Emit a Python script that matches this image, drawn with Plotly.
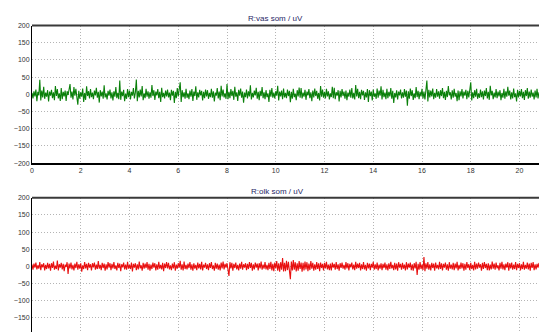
import plotly.graph_objects as go

# Surface EMG recordings, sampled every 0.04 s
sample_step = 0.04

vas_title = "R:vas som / uV"
olk_title = "R:olk som / uV"

vas_uv = [
    4, -12, 9, -6, 14, -20, 7, -3, 42, -18, 11, -9, 22, -13, 5, -7, 12, -21, 8, -4,
    13, -11, 6, -17, 24, -5, 15, -12, 3, -19, 18, -14, 7, -6, 11, -19, 9, -2, 14, 30,
    -10, 8, -15, 21, -4, 16, -8, -30, 10, -13, 6, -7, 17, -22, 4, -16, 23, -5, 9, -12,
    15, -8, 5, -14, 11, -3, 19, -10, 7, -24, 12, -6, 8, -13, 26, -9, 3, -15, 10, -4,
    14, -12, 6, -18, 9, -7, 21, -11, 4, -14, 40, -16, 8, -5, 13, -20, 2, -13, 15, -8,
    11, -15, 7, -4, 18, -12, 5, 43, -20, 10, -9, 14, -6, 24, -17, 3, -11, 16, -7, 9,
    -13, 6, -10, 27, -5, 12, -16, 8, -3, 15, -11, 7, -22, 19, -8, 4, -12, 11, -6, 14,
    -9, 5, -17, 13, -4, 10, -25, 7, -11, 18, -6, 9, 35, -22, 12, -8, 6, -13, 16, -10,
    3, -14, 11, -7, 15, -19, 8, -5, 23, -16, 6, -9, 13, -3, 10, -18, 7, -11, 14, -6,
    12, -13, 4, -8, 16, -10, 9, -21, 5, -4, 18, -12, 8, -17, 25, -6, 14, -9, 3, -13,
    30, -14, 7, -11, 15, -5, 10, -16, 22, -7, 6, -19, 13, -4, 17, -10, 8, -24, 5, -8,
    14, -12, 9, -6, 26, -15, 4, -9, 11, -3, 19, -13, 7, -17, 10, -5, 21, -11, 6, -14,
    12, -8, 3, -22, 13, -7, 18, -10, 5, -12, 9, -4, 25, -18, 8, -6, 11, -14, 17, -9,
    4, -11, 14, -5, 10, -23, 7, -13, 16, -8, 2, -17, 12, -6, 20, -10, 18, -12, 5, -7,
    13, -16, 8, -3, 15, -11, 6, -20, 11, -9, 17, -5, 10, -13, 4, -18, 24, -7, 14, -10,
    7, -12, 16, -6, 9, -15, 3, -8, 22, -11, 19, -14, 6, -4, 12, -21, 10, -9, 15, -5,
    8, -13, 11, -17, 5, -7, 14, -10, 18, -12, 4, -15, 27, -6, 16, -11, 7, -14, 13, -3,
    10, -16, 6, -9, 15, -22, 12, -5, 8, -18, 14, -7, 3, -13, 17, -10, 11, -4, 23, -15,
    13, -8, 5, -14, 16, -11, 7, -6, 18, -13, 10, -25, 4, -9, 12, -15, 8, -3, 14, -12,
    6, -10, 15, -7, 11, -33, 9, -13, 17, -5, 12, -16, 3, -11, 21, -8, 10, -14, 7, -6,
    16, -12, 8, -15, 5, 40, -21, 13, -9, 11, -6, 17, -14, 4, -10, 15, -7, 9, -13, 12,
    -5, 18, -11, 7, -16, 10, -8, 24, -3, 6, -15, 12, -10, 16, -7, 4, -20, 11, -17, 9,
    -6, 15, -12, 8, -4, 13, -14, 10, -9, 17, 35, -18, 6, -11, 12, -7, 16, -13, 3, -10,
    14, -8, 9, -15, 11, -5, 18, -12, 7, -16, 25, -3, 10, -14, 5, -9, 15, -11, 8, -6,
    12, -17, 4, -10, 16, -13, 9, -7, 22, -4, 11, -15, 6, -12, 17, -8, 3, -21, 13, -9,
    10, -6, 15, -11, 7, -16, 12, -5, 18, -13, 8, -10, 14, -7, 5, -15, 11, -9, 16, -12, 6,
]

olk_uv = [
    5, -10, 8, -4, 11, -9, 3, -7, 12, -11, 6, -3, 9, -12, 4, -8, 10, -6, 7, -13,
    9, -5, 14, -10, 2, -8, 17, -12, 6, -4, 10, -9, 7, -14, 5, -2, 12, -22, 8, -6,
    11, -9, 4, -12, 8, -5, 13, -10, 6, -7, 9, -16, 3, -8, 12, -6, 7, -11, 10, -4,
    6, -12, 9, -3, 11, -10, 5, -8, 15, -7, 4, -11, 10, -5, 8, -13, 6, -9, 12, -4,
    9, -11, 7, -6, 12, -8, 3, -12, 10, -5, 8, -14, 6, -3, 11, -9, 5, -10, 13, -7,
    4, -8, 11, -15, 7, -4, 9, -11, 6, -9, 14, -6, 3, -13, 10, -7, 8, -5, 12, -10,
    7, -13, 5, -8, 11, -4, 9, -12, 6, -10, 13, -7, 4, -9, 10, -14, 8, -5, 12, -6,
    10, -9, 3, -11, 8, -6, 12, -13, 5, -7, 9, -4, 16, -10, 6, -12, 14, -8, 4, -9,
    8, -5, 12, -10, 6, -13, 9, -7, 4, -11, 11, -6, 7, -9, 13, -12, 5, -4, 10, -8,
    6, -11, 9, -5, 12, -8, 3, -13, 10, -7, 8, -10, 5, -12, 11, -6, 14, -9, 7, -4,
    9, -10, -28, 12, -6, 10, -13, 7, -5, 11, -9, 4, -12, 8, -7, 13, -10, 6, -4, 9,
    -11, 7, -8, 12, -5, 10, -13, 6, -9, 11, -4, 8, -12, 9, -6, 14, -10, 5, -7, 12,
    -9, 4, -11, 10, -8, 13, -12, 7, -14, 11, -6, 15, -13, 9, -16, 12, -10, 24, -15, 10,
    -14, 16, -11, 13, -17, -38, 14, -12, 18, -10, 12, -15, 9, -13, 15, -8, 11, -16, 10, -12,
    14, -9, 12, -14, 8, -11, 15, -7, 10, -13, 6, -10, 12, -8, 9, -14, 11, -5, 7, -12,
    10, -6, 13, -9, 5, -11, 8, -12, 11, -4, 7, -10, 12, -8, 6, -13, 9, -5, 11, -7,
    4, -10, 12, -6, 9, -12, 7, -3, 11, -9, 5, -11, 13, -7, 8, -5, 10, -12, 6, -8,
    12, -9, 4, -13, 10, -6, 8, -11, 7, -4, 13, -10, 6, -8, 11, -12, 5, -7, 9, -11,
    7, -5, 11, -10, 6, -12, 9, -8, 13, -6, 4, -11, 10, -9, 8, -13, 12, -4, 7, -10,
    10, -7, 5, -12, 12, -9, 8, -4, 11, -11, 6, -13, 9, -6, 13, -25, 7, -10, 12, -8,
    5, -11, 27, -14, 9, -7, 12, -10, 6, -12, 10, -5, 8, -13, 11, -6, 4, -9, 13, -8,
    9, -12, 7, -4, 11, -10, 6, -13, 12, -7, 5, -9, 10, -11, 8, -6, 13, -12, 4, -8,
    11, -6, 9, -13, 7, -10, 12, -5, 6, -11, 10, -8, 4, -12, 13, -9, 8, -7, 11, -4,
    6, -13, 10, -8, 12, -5, 7, -11, 9, -12, 5, -9, 14, -7, 8, -10, 11, -6, 3, -12,
    10, -7, 13, -9, 6, -11, 8, -4, 12, -13, 9, -6, 11, -10, 5, -8, 12, -11, 7, -5,
    9, -12, 6, -8, 13, -10, 4, -7, 11, -9, 8, -13, 10, -5, 12, -11, 6, -9, 7, -4, 10,
]

x_ticks = [0, 2, 4, 6, 8, 10, 12, 14, 16, 18, 20]
y_ticks = [-200, -150, -100, -50, 0, 50, 100, 150, 200]

W, H = 539, 335
tick_font = dict(family="Liberation Sans, Arial, sans-serif", size=7, color="#333333")
title_font = dict(family="Liberation Sans, Arial, sans-serif", size=8, color="#1f1f66")

fig = go.Figure()
fig.add_trace(go.Scatter(
    x0=0, dx=sample_step, y=vas_uv, mode="lines",
    line=dict(color="#0a800a", width=1.1), xaxis="x", yaxis="y", showlegend=False,
))
fig.add_trace(go.Scatter(
    x0=0, dx=sample_step, y=olk_uv, mode="lines",
    line=dict(color="#e81010", width=1.1), xaxis="x2", yaxis="y2", showlegend=False,
))

def px_to_paper(py):
    return (H - py) / H

grid_style = dict(showgrid=True, gridcolor="#b4b4b4", griddash="1px,2px", gridwidth=1)

common_x = dict(
    grid_style, range=[0, 20.8], tickvals=x_ticks, ticks="", zeroline=False,
    tickfont=tick_font,
)
common_y = dict(
    grid_style, tickvals=y_ticks, ticks="", zeroline=False, tickfont=tick_font,
    showline=True, linecolor="#000000", linewidth=1,
)

fig.update_layout(
    width=W, height=H,
    margin=dict(l=32, r=0, t=0, b=0),
    paper_bgcolor="white", plot_bgcolor="white",
    xaxis=dict(common_x, anchor="y", showline=True, linecolor="#000000", linewidth=1.5),
    yaxis=dict(common_y, range=[-200, 200],
               domain=[px_to_paper(162.5), px_to_paper(22)], anchor="x"),
    xaxis2=dict(common_x, anchor="y2", showline=False, showticklabels=False),
    yaxis2=dict(common_y, range=[-192, 200],
                domain=[0, px_to_paper(198)], anchor="x2"),
    shapes=[
        dict(type="line", xref="x domain", yref="y domain", x0=0, x1=1, y0=1, y1=1,
             line=dict(color="#3a3a3a", width=2)),
        dict(type="line", xref="x2 domain", yref="y2 domain", x0=0, x1=1, y0=1, y1=1,
             line=dict(color="#3a3a3a", width=2)),
    ],
    annotations=[
        dict(text=vas_title, xref="paper", yref="paper", x=(275 - 32) / (W - 32),
             y=px_to_paper(15), showarrow=False, font=title_font,
             xanchor="center", yanchor="middle"),
        dict(text=olk_title, xref="paper", yref="paper", x=(277 - 32) / (W - 32),
             y=px_to_paper(191), showarrow=False, font=title_font,
             xanchor="center", yanchor="middle"),
    ],
)

fig.write_html("out.html")
